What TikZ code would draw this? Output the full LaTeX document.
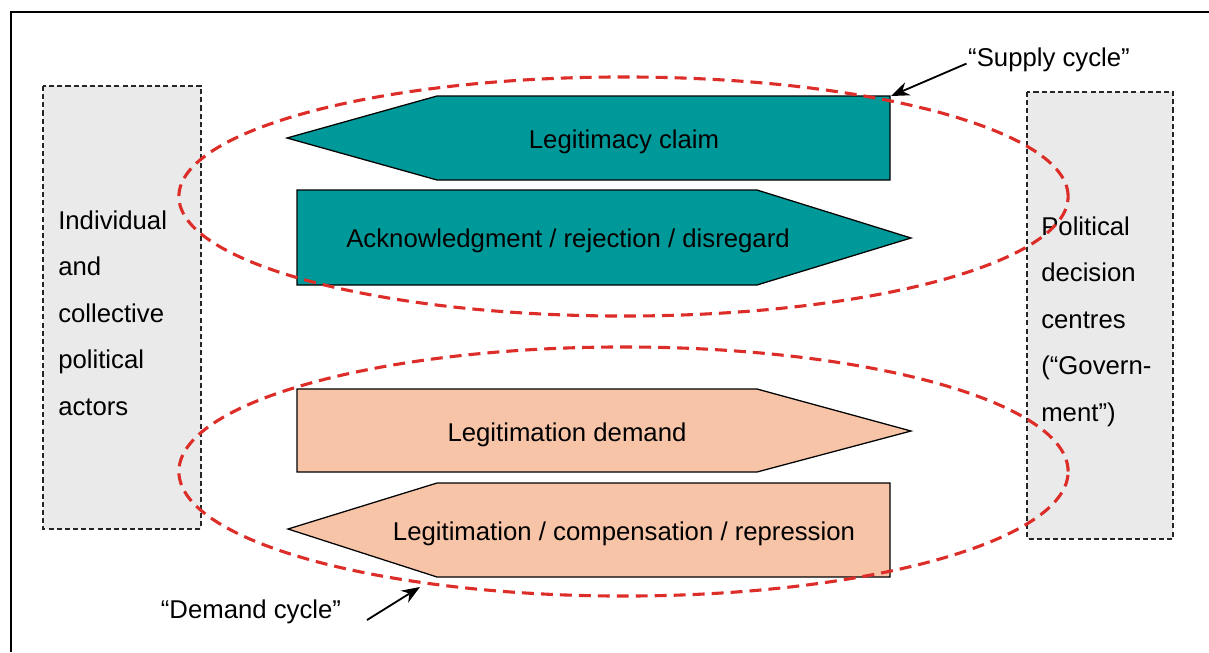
\documentclass[tikz,border=0pt]{standalone}
\usepackage{fontspec}
\setmainfont{Liberation Sans}
\usetikzlibrary{arrows.meta}
\definecolor{tealfill}{RGB}{0,153,153}
\definecolor{salmonfill}{RGB}{248,196,168}
\definecolor{boxgrey}{RGB}{234,234,234}
\definecolor{cyclered}{RGB}{221,45,40}
\begin{document}
\begin{tikzpicture}[x=0.025cm,y=-0.025cm,
  lbl/.style={font=\fontsize{18.3}{22}\selectfont, inner sep=0pt},
  sidetext/.style={font=\fontsize{18.3}{33}\selectfont, inner sep=0pt, align=left, anchor=north west},
  sidebox/.style={draw=black!85, dash pattern=on 3.6pt off 2.2pt, fill=boxgrey, line width=0.9pt},
  arrowshape/.style={draw=black, line width=0.9pt},
  cycloop/.style={draw=cyclered, line width=2.2pt, dash pattern=on 8.5pt off 5pt},
  callout/.style={draw=black, line width=1.3pt, -{Stealth[length=13pt,width=10pt]}}]
\useasboundingbox (0,0) rectangle (1209,652);
% outer frame
\draw[line width=1.4pt] (1209,12) -- (11,12) -- (11,652);
% side boxes
\draw[sidebox] (43,86) rectangle (201,529);
\draw[sidebox] (1027,92) rectangle (1173,539);
\node[sidetext] (actors) at (58,210.5) {Individual\\and\\collective\\political\\actors};
\node[sidetext] (gov) at (1041,216.5) {Political\\decision\\centres\\(“Govern-\\ment”)};
% arrow shapes
\draw[arrowshape, fill=tealfill] (287,138) -- (437,96) -- (890,96) -- (890,180) -- (437,180) -- cycle;
\node[lbl, anchor=base] (claim) at (624,148) {Legitimacy claim};
\draw[arrowshape, fill=tealfill] (297,190) -- (757,190) -- (911,238) -- (757,285) -- (297,285) -- cycle;
\node[lbl, anchor=base] (ack) at (568,247) {Acknowledgment / rejection / disregard};
\draw[arrowshape, fill=salmonfill] (297,389) -- (757,389) -- (911,431) -- (757,472) -- (297,472) -- cycle;
\node[lbl, anchor=base] (dem) at (567,441) {Legitimation demand};
\draw[arrowshape, fill=salmonfill] (288,529) -- (437,483) -- (890,483) -- (890,577) -- (437,577) -- cycle;
\node[lbl, anchor=base] (leg) at (624,540) {Legitimation / compensation / repression};
% cycles
\draw[cycloop] (623.5,196.5) ellipse [x radius=11.1125cm, y radius=2.9875cm];
\draw[cycloop] (623.5,471.5) ellipse [x radius=11.1125cm, y radius=3.1125cm];
% labels with callouts
\node[lbl, anchor=base] (supply) at (1049,66) {“Supply cycle”};
\coordinate (supplytip) at (891,96);
\draw[callout] ([xshift=-1pt,yshift=-3pt]supply.west) -- (supplytip);
\node[lbl, anchor=base] (demand) at (251,618) {“Demand cycle”};
\coordinate (demandtail) at (367,620);
\coordinate (demandtip) at (420,587);
\draw[callout] (demandtail) -- (demandtip);
\end{tikzpicture}
\end{document}
